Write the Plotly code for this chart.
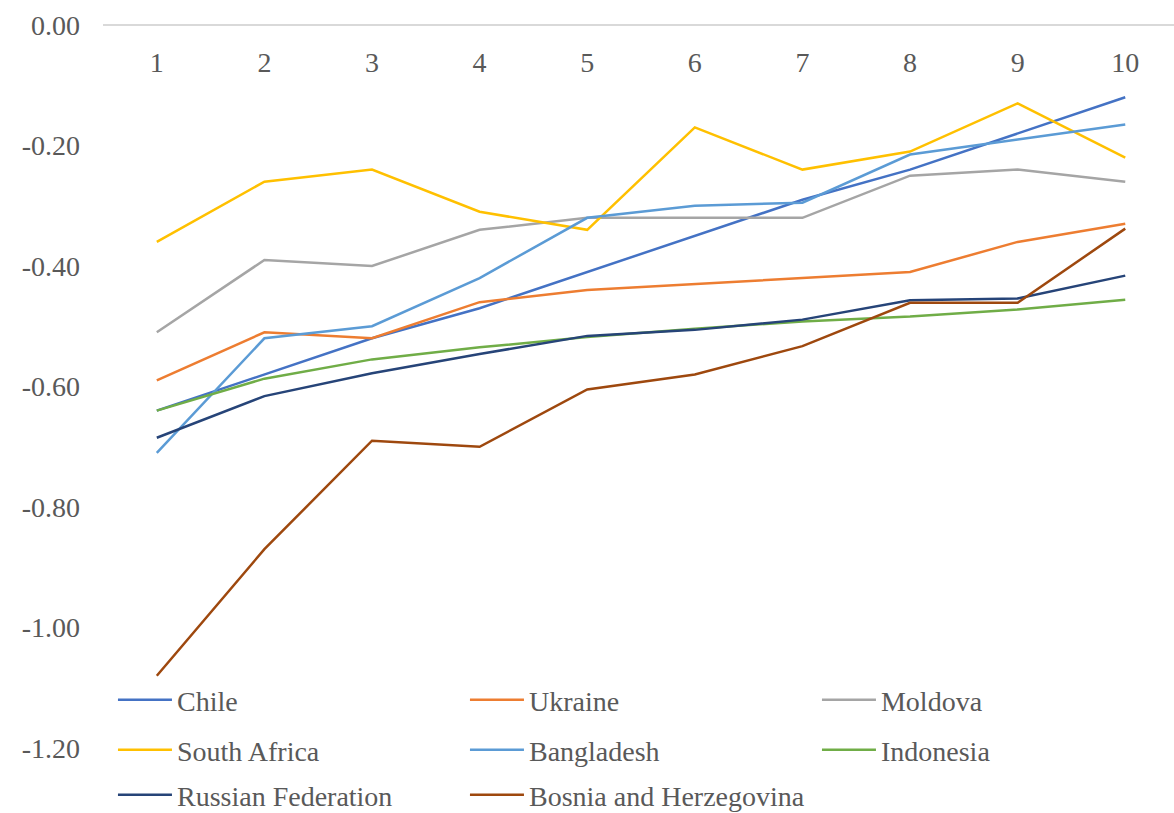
import plotly.graph_objects as go

deciles = [1, 2, 3, 4, 5, 6, 7, 8, 9, 10]
chile = [-0.64, -0.58, -0.52, -0.47, -0.41, -0.35, -0.29, -0.24, -0.18, -0.12]
ukraine = [-0.59, -0.51, -0.52, -0.46, -0.44, -0.43, -0.42, -0.41, -0.36, -0.33]
moldova = [-0.51, -0.39, -0.40, -0.34, -0.32, -0.32, -0.32, -0.25, -0.24, -0.26]
south_africa = [-0.36, -0.26, -0.24, -0.31, -0.34, -0.17, -0.24, -0.21, -0.13, -0.22]
bangladesh = [-0.71, -0.52, -0.50, -0.42, -0.32, -0.30, -0.295, -0.215, -0.19, -0.165]
indonesia = [-0.64, -0.587, -0.555, -0.535, -0.518, -0.504, -0.492, -0.484, -0.472, -0.456]
russia = [-0.685, -0.616, -0.578, -0.546, -0.516, -0.506, -0.489, -0.457, -0.454, -0.416]
bosnia = [-1.08, -0.87, -0.69, -0.70, -0.605, -0.58, -0.533, -0.461, -0.461, -0.338]

series = [
    ("Chile", chile, "#4472C4", "legend"),
    ("Ukraine", ukraine, "#ED7D31", "legend"),
    ("Moldova", moldova, "#A5A5A5", "legend"),
    ("South Africa", south_africa, "#FFC000", "legend2"),
    ("Bangladesh", bangladesh, "#5B9BD5", "legend2"),
    ("Indonesia", indonesia, "#70AD47", "legend2"),
    ("Russian Federation", russia, "#264478", "legend3"),
    ("Bosnia and Herzegovina", bosnia, "#9E480E", "legend3"),
]

y_tickvals = [0, -0.2, -0.4, -0.6, -0.8, -1.0, -1.2]
y_ticktext = ["0.00", "-0.20", "-0.40", "-0.60", "-0.80", "-1.00", "-1.20"]
x_ticktext = [str(d) for d in deciles]

FONT = "Liberation Serif"
TXT = "#595959"

fig = go.Figure()
for name, vals, col, lg in series:
    fig.add_trace(go.Scatter(x=deciles, y=vals, name=name, mode="lines", legend=lg,
                             line=dict(color=col, width=2.5)))


def legend_row(ypos):
    return dict(orientation="h", x=0.0093, xanchor="left", y=ypos, yanchor="middle",
                entrywidth=283, entrywidthmode="pixels", itemwidth=54,
                font=dict(family=FONT, size=28, color=TXT),
                bgcolor="rgba(0,0,0,0)", traceorder="normal")


fig.update_layout(
    width=1174, height=813,
    margin=dict(l=103, r=0, t=25, b=65, autoexpand=False),
    paper_bgcolor="white", plot_bgcolor="white",
    font=dict(family=FONT, size=28, color=TXT),
    showlegend=True,
    legend=legend_row(0.0664),
    legend2=legend_row(-0.0028),
    legend3=legend_row(-0.0650),
    xaxis=dict(range=[0.5, 10.453], tickvals=deciles, ticktext=x_ticktext,
               showgrid=False, zeroline=False, showline=False,
               anchor="free", position=0.975, side="bottom", ticks=""),
    yaxis=dict(range=[-1.2, 0], tickvals=y_tickvals, ticktext=y_ticktext,
               showgrid=False, zeroline=True, zerolinecolor="#D9D9D9", zerolinewidth=2,
               showline=False, ticks="", ticklabelstandoff=22),
)

fig.write_html("out.html")
